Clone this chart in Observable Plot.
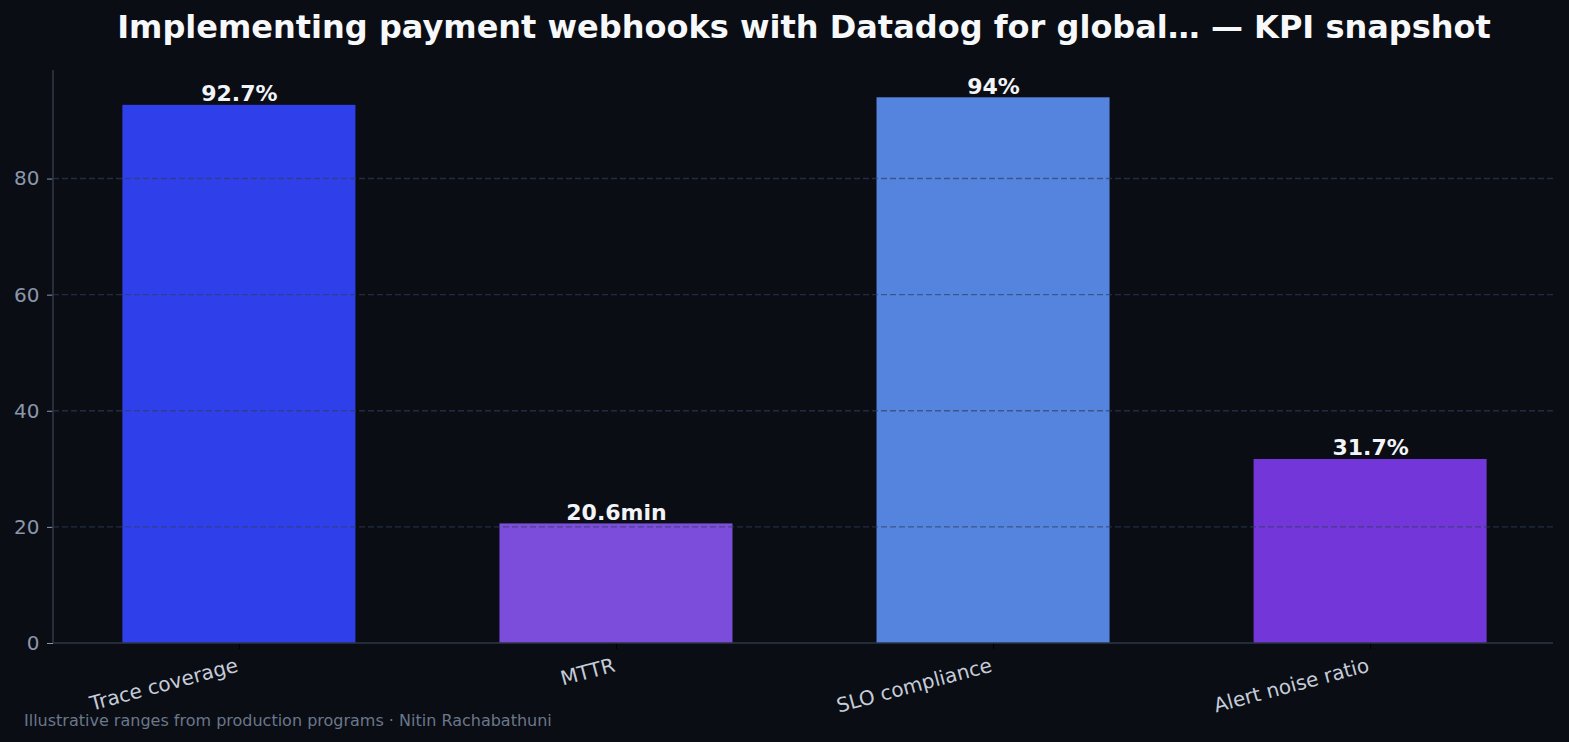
<!DOCTYPE html>
<html>
<head>
<meta charset="utf-8">
<script src="https://cdn.jsdelivr.net/npm/d3@7"></script>
<script src="https://cdn.jsdelivr.net/npm/@observablehq/plot@0.6"></script>
<style>
  html, body { margin: 0; padding: 0; background: #0a0d14; }
  #wrap { position: relative; width: 1569px; height: 742px; overflow: hidden; background: #0a0d14; font-family: "DejaVu Sans", sans-serif; }
  #title { position: absolute; left: 54px; width: 1500px; top: 11px; text-align: center; color: #f7f8fa; font-weight: bold; font-size: 32px; line-height: 32px; white-space: nowrap; }
  #chart { position: absolute; left: 0; top: 56px; }
  #caption { position: absolute; left: 24px; top: 713px; color: #6b778a; font-size: 16px; line-height: 16px; white-space: nowrap; }
</style>
</head>
<body>
<div id="wrap">
  <div id="title">Implementing payment webhooks with Datadog for global… — KPI snapshot</div>
  <div id="chart"></div>
  <div id="caption">Illustrative ranges from production programs · Nitin Rachabathuni</div>
</div>
<script>
const categories = ["Trace coverage", "MTTR", "SLO compliance", "Alert noise ratio"];
const values = [92.7, 20.6, 94, 31.7];
const valueLabels = ["92.7%", "20.6min", "94%", "31.7%"];
const barColors = ["#2f40ea", "#7c4ddb", "#5584de", "#7336d9"];
const yTicks = [0, 20, 40, 60, 80];
const gridTicks = [20, 40, 60, 80];

const data = categories.map((c, i) => ({name: c, value: values[i], label: valueLabels[i], color: barColors[i]}));

const W = 1569, H = 686;
const mL = 53, mR = 13, mT = 14, mB = 99;
const spineRight = 1553;

const chart = Plot.plot({
  width: W,
  height: H,
  marginLeft: mL,
  marginRight: mR,
  marginTop: mT,
  marginBottom: mB,
  style: {background: "#0a0d14", fontFamily: "DejaVu Sans, sans-serif"},
  x: {domain: categories, paddingInner: 0.382, paddingOuter: 0.184, round: false, label: null},
  y: {domain: [0, 94 * 1.05], label: null},
  color: {type: "identity"},
  marks: [
    Plot.barY(data, {x: "name", y: "value", fill: "color"}),
    Plot.axisY(yTicks, {tickSize: 6, tickPadding: 8, fontSize: 20, color: "#8b97ab", label: null}),
    Plot.axisX({tickSize: 6, tickFormat: () => "", color: "#000000", label: null}),
    Plot.text(data, {x: "name", y: "value", text: "label", dy: -4, lineAnchor: "bottom", fontSize: 22, fontWeight: "bold", fill: "#f2f4f7"}),
    Plot.text(data, {x: "name", frameAnchor: "bottom", text: "name", rotate: -15, textAnchor: "end", lineAnchor: "top", dx: -4, dy: 14, fontSize: 20, fill: "#c5ccd8"})
  ]
});

// gridlines (on top of bars) and spines, limited to the axes box
const y = chart.scale("y");
const svg = d3.select(chart);
const gridG = svg.append("g");
for (const t of gridTicks) {
  const yy = y.apply(t);
  gridG.append("line")
    .attr("x1", mL).attr("x2", spineRight)
    .attr("y1", yy).attr("y2", yy)
    .attr("stroke", "#2e3d5c").attr("stroke-opacity", 0.65)
    .attr("stroke-width", 1.4).attr("stroke-dasharray", "6,3");
}
const y0 = y.apply(0);
svg.append("line")
  .attr("x1", mL).attr("x2", spineRight)
  .attr("y1", y0).attr("y2", y0)
  .attr("stroke", "#2e3646").attr("stroke-width", 1.6);
svg.append("line")
  .attr("x1", mL).attr("x2", mL)
  .attr("y1", mT).attr("y2", H - mB)
  .attr("stroke", "#2e3646").attr("stroke-width", 1.6);

document.getElementById("chart").appendChild(chart);
</script>
</body>
</html>
